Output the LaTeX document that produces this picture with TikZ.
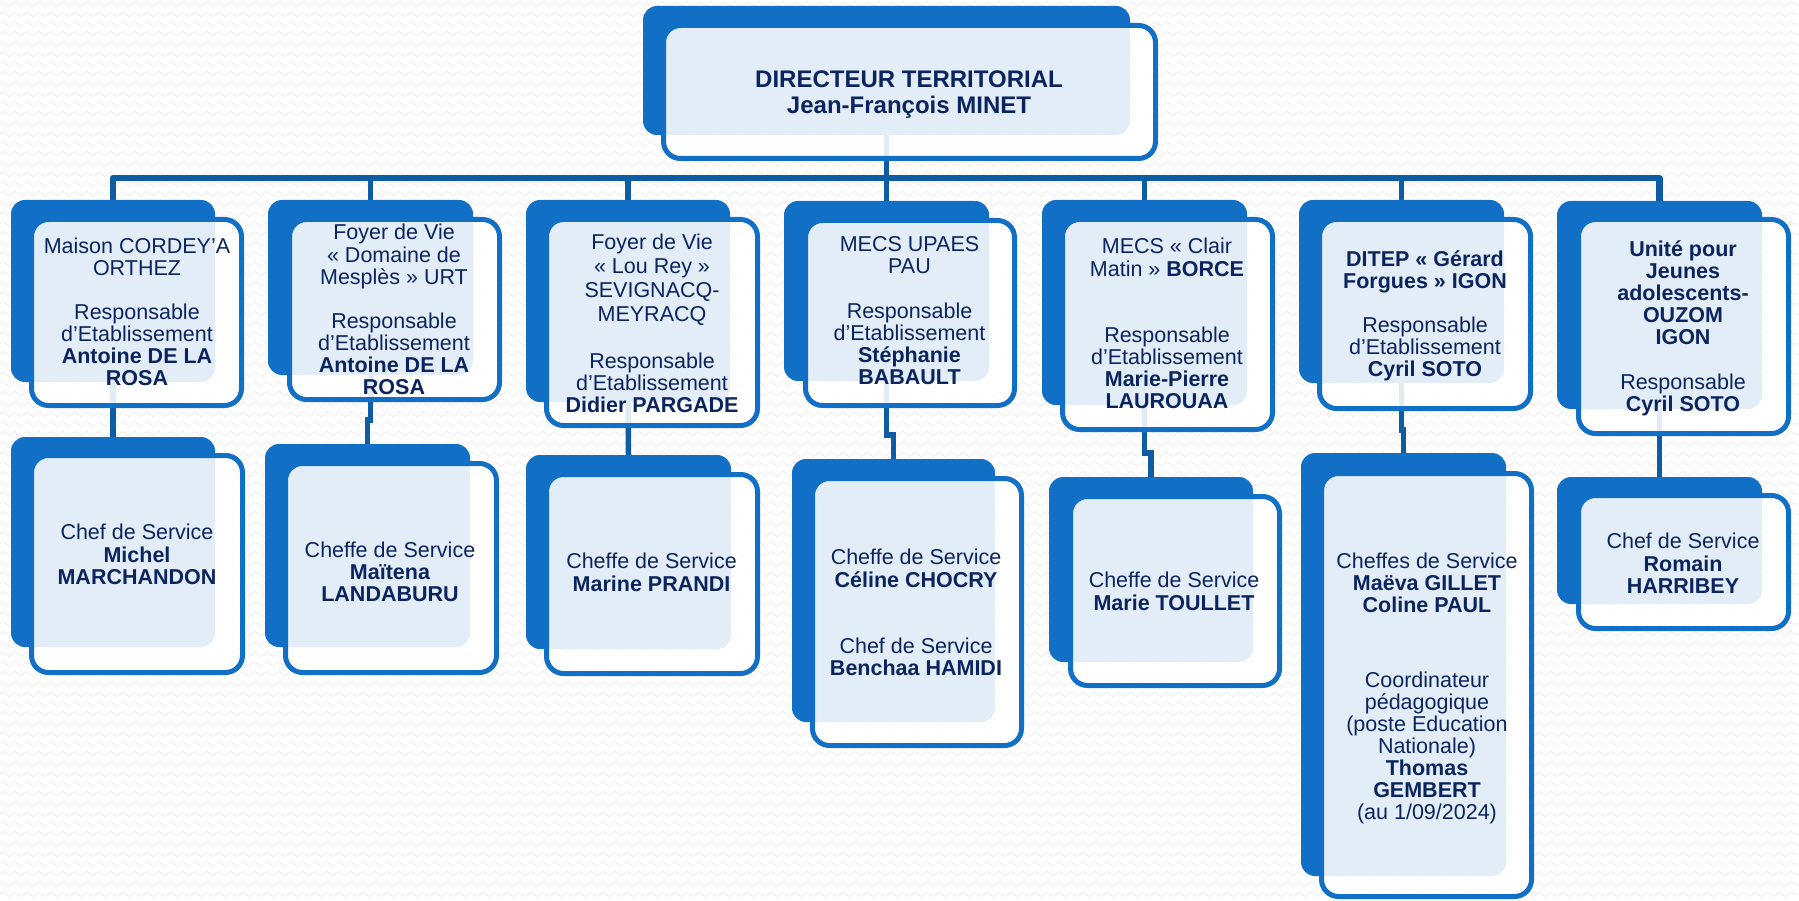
\documentclass[tikz,border=0pt]{standalone}
\usepackage{fontspec}
\setmainfont{Liberation Sans}
\usetikzlibrary{decorations.pathmorphing}
\definecolor{boxblue}{RGB}{17,112,198}
\definecolor{linkblue}{RGB}{14,92,164}
\definecolor{txtnavy}{RGB}{12,36,94}
\definecolor{zig}{RGB}{242,242,242}
\pgfdeclarelayer{background}
\pgfdeclarelayer{links}
\pgfsetlayers{background,links,main}
\newcommand{\bk}[5]{\node[backbox, minimum width={(#4)-(#2)}, minimum height={(#5)-(#3)}] (#1) at ({((#2)+(#4))/2},{((#3)+(#5))/2}) {};}
\newcommand{\fr}[5]{\node[frontbox, minimum width={(#4)-(#2)-5}, minimum height={(#5)-(#3)-5}] (#1) at ({((#2)+(#4))/2},{((#3)+(#5))/2}) {};}
\tikzset{
  backbox/.style={fill=boxblue, draw=none, rounded corners=14pt, inner sep=0pt, outer sep=0pt},
  frontbox/.style={draw=boxblue, line width=5pt, fill=white, fill opacity=0.88, rounded corners=17pt, inner sep=0pt, outer sep=0pt},
  lbl/.style={text=txtnavy, align=center, inner sep=0pt, font=\fontsize{21.5}{22}\selectfont},
  dirlbl/.style={text=txtnavy, align=center, inner sep=0pt, font=\fontsize{24}{26}\selectfont\bfseries},
  link/.style={draw=linkblue, line width=5.5pt},
  bar/.style={draw=linkblue, line width=6.5pt, line join=round},
}
\begin{document}
\begin{tikzpicture}[x=1pt,y=-1pt]
\useasboundingbox (0,0) rectangle (1799,901);
\begin{pgfonlayer}{background}
\fill[white] (0,0) rectangle (1799,901);
\foreach \yy in {4,14,...,900}
  \draw[zig, line width=1.2pt, decorate, decoration={zigzag,segment length=12pt,amplitude=2.5pt}] (0,\yy) -- (1799,\yy);
\end{pgfonlayer}

% director
\bk{db}{643}{6}{1130}{135}
\fr{df}{661}{23}{1158}{161}
\node[dirlbl] (dt) at (909,95.4) {\strut DIRECTEUR TERRITORIAL\\\strut Jean-François MINET};

% column 1
\bk{b1u}{11}{200}{215}{382}
\fr{f1u}{29}{217}{244}{408}
\node[lbl] (t1u) at (137,314.8) {\strut Maison CORDEY’A\\ORTHEZ\\[22pt]Responsable\\d’Etablissement\\\textbf{Antoine DE LA}\\\strut\textbf{ROSA}};
\bk{b1l}{11}{437}{215}{647}
\fr{f1l}{29}{453}{245}{675}
\node[lbl] (t1l) at (137,557.3) {\strut Chef de Service\\\textbf{Michel}\\\strut\textbf{MARCHANDON}};

% column 2
\bk{b2u}{268}{200}{473}{375}
\fr{f2u}{287}{217}{502}{402}
\node[lbl] (t2u) at (394,312.3) {\strut Foyer de Vie\\« Domaine de\\Mesplès » URT\\[22pt]Responsable\\d’Etablissement\\\textbf{Antoine DE LA}\\\strut\textbf{ROSA}};
\bk{b2l}{265}{444}{470}{647}
\fr{f2l}{283}{461}{499}{675}
\node[lbl] (t2l) at (390,575.3) {\strut Cheffe de Service\\\textbf{Maïtena}\\\strut\textbf{LANDABURU}};

% column 3
\bk{b3u}{526}{200}{730}{402}
\fr{f3u}{544}{217}{760}{428}
\node[lbl] (t3u) at (652,326.8) {\strut Foyer de Vie\\[2pt]« Lou Rey »\\[2pt]SEVIGNACQ-\\[2pt]MEYRACQ\\[25pt]Responsable\\d’Etablissement\\\strut\textbf{Didier PARGADE}};
\bk{b3l}{526}{455}{731}{649}
\fr{f3l}{544}{472}{760}{676}
\node[lbl] (t3l) at (651.5,575.3) {\strut Cheffe de Service\\\strut\textbf{Marine PRANDI}};

% column 4
\bk{b4u}{784}{201}{989}{381}
\fr{f4u}{803}{218}{1017}{408}
\node[lbl] (t4u) at (909.5,313.8) {\strut MECS UPAES\\PAU\\[23pt]Responsable\\d’Etablissement\\\textbf{Stéphanie}\\\strut\textbf{BABAULT}};
\bk{b4l}{792}{459}{995}{722}
\fr{f4l}{810}{476}{1024}{748}
\node[lbl] (t4l) at (916,615.3) {\strut Cheffe de Service\\\textbf{Céline CHOCRY}\\[44pt]Chef de Service\\\strut\textbf{Benchaa HAMIDI}};

% column 5
\bk{b5u}{1042}{200}{1247}{405}
\fr{f5u}{1060}{217}{1275}{432}
\node[lbl] (t5u) at (1167,326.8) {\strut MECS « Clair\\Matin » \textbf{BORCE}\\[44pt]Responsable\\d’Etablissement\\\textbf{Marie-Pierre}\\\strut\textbf{LAUROUAA}};
\bk{b5l}{1049}{477}{1253}{662}
\fr{f5l}{1068}{494}{1282}{688}
\node[lbl] (t5l) at (1174,594.3) {\strut Cheffe de Service\\\strut\textbf{Marie TOULLET}};

% column 6
\bk{b6u}{1299}{200}{1504}{383}
\fr{f6u}{1317}{217}{1533}{411}
\node[lbl] (t6u) at (1425,316.8) {\strut\textbf{DITEP « Gérard}\\\textbf{Forgues » IGON}\\[22pt]Responsable\\d’Etablissement\\\strut\textbf{Cyril SOTO}};
\bk{b6l}{1301}{453}{1506}{876}
\fr{f6l}{1319}{471}{1534}{899}
\node[lbl] (t6l) at (1427,689.8) {\strut Cheffes de Service\\\textbf{Maëva GILLET}\\\textbf{Coline PAUL}\\[53pt]Coordinateur\\pédagogique\\(poste Education\\Nationale)\\\textbf{Thomas}\\\textbf{GEMBERT}\\\strut(au 1/09/2024)};

% column 7
\bk{b7u}{1557}{201}{1762}{409}
\fr{f7u}{1576}{217}{1791}{436}
\node[lbl] (t7u) at (1683,329.8) {\strut\textbf{Unité pour}\\\textbf{Jeunes}\\\textbf{adolescents-}\\\textbf{OUZOM}\\\textbf{IGON}\\[23pt]Responsable\\\strut\textbf{Cyril SOTO}};
\bk{b7l}{1557}{477}{1762}{604}
\fr{f7l}{1576}{493}{1791}{631}
\node[lbl] (t7l) at (1683,566.3) {\strut Chef de Service\\\textbf{Romain}\\\strut\textbf{HARRIBEY}};

% connectors
\coordinate (bus) at (0,178);
\coordinate (j2) at (0,420);
\coordinate (j4) at (0,435);
\coordinate (j5) at (0,453);
\coordinate (j6) at (0,430);
\begin{pgfonlayer}{links}
\draw[link] (db.south) -- (db.south |- bus);
\draw[bar] (b1u.north) -- (b1u.north |- bus) -- (b7u.north |- bus) -- (b7u.north);
\foreach \n in {b2u,b3u,b4u,b5u,b6u}
  \draw[link] (\n.north) -- (\n.north |- bus);
\draw[link] (b1u.south) -- (b1l.north);
\draw[link] (b2u.south) -- (b2u.south |- j2) -| (b2l.north);
\draw[link] (b3u.south) -- (b3l.north);
\draw[link] (b4u.south) -- (b4u.south |- j4) -| (b4l.north);
\draw[link] (b5u.south) -- (b5u.south |- j5) -| (b5l.north);
\draw[link] (b6u.south) -- (b6u.south |- j6) -| (b6l.north);
\draw[link] (b7u.south) -- (b7l.north);
\end{pgfonlayer}
\end{tikzpicture}
\end{document}
